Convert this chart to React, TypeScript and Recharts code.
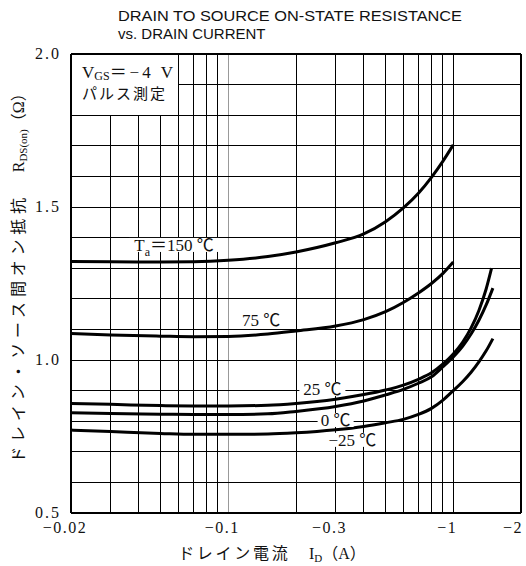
import { LineChart, Line, XAxis, YAxis, ReferenceLine, ReferenceDot } from "recharts";

// drain current (A, magnitude) and on-resistance (ohm) per ambient temperature
const I_HOT = [0.02, 0.03, 0.05, 0.07, 0.1, 0.15, 0.2, 0.3, 0.4, 0.5, 0.6, 0.7, 0.8, 0.9, 1.0];
const R_150 = [1.322, 1.321, 1.32, 1.321, 1.326, 1.338, 1.353, 1.383, 1.412, 1.452, 1.497, 1.545, 1.597, 1.65, 1.703];
const R_75 = [1.087, 1.082, 1.078, 1.076, 1.077, 1.085, 1.095, 1.111, 1.132, 1.158, 1.188, 1.219, 1.25, 1.283, 1.32];

const I_25 = [0.02, 0.03, 0.05, 0.07, 0.1, 0.15, 0.2, 0.3, 0.4, 0.5, 0.6, 0.7, 0.8, 0.9, 1.0, 1.1, 1.2, 1.3, 1.4, 1.48];
const R_25 = [0.858, 0.855, 0.851, 0.85, 0.85, 0.852, 0.858, 0.872, 0.887, 0.902, 0.918, 0.937, 0.958, 0.987, 1.02, 1.058, 1.105, 1.162, 1.232, 1.3];

const I_COLD = [0.02, 0.03, 0.05, 0.07, 0.1, 0.15, 0.2, 0.3, 0.4, 0.5, 0.6, 0.7, 0.8, 0.9, 1.0, 1.1, 1.2, 1.3, 1.4, 1.5];
const R_0 = [0.828, 0.825, 0.823, 0.822, 0.822, 0.824, 0.832, 0.848, 0.866, 0.886, 0.904, 0.924, 0.945, 0.978, 1.01, 1.045, 1.085, 1.13, 1.18, 1.235];
const R_M25 = [0.771, 0.766, 0.76, 0.757, 0.757, 0.758, 0.762, 0.772, 0.783, 0.795, 0.806, 0.822, 0.842, 0.869, 0.9, 0.929, 0.96, 0.994, 1.03, 1.07];

const X_TICKS = [0.02, 0.1, 0.3, 1, 2];
const Y_TICKS = [0.5, 1.0, 1.5, 2.0];
const X_GRID = [0.03, 0.04, 0.05, 0.06, 0.07, 0.08, 0.09, 0.1, 0.2, 0.3, 0.4, 0.5, 0.6, 0.7, 0.8, 0.9, 1];
const Y_GRID = [0.6, 0.7, 0.8, 0.9, 1.0, 1.1, 1.2, 1.3, 1.4, 1.5, 1.6, 1.7, 1.8, 1.9];

// curve labels, anchored in data units
const CURVE_LABELS = [
  { key: "150", x: 0.0574, y: 1.376, w: 90 },
  { key: "75", x: 0.14, y: 1.131, w: 44 },
  { key: "25", x: 0.262, y: 0.905, w: 46 },
  { key: "0", x: 0.3, y: 0.804, w: 36 },
  { key: "-25", x: 0.356, y: 0.739, w: 56 },
];

const SERIF = "'Liberation Serif', 'Noto Sans CJK JP', serif";
const SANS = "'Liberation Sans', Arial, sans-serif";

const toPoints = (xs: number[], ys: number[]) => xs.map((x, i) => ({ x, y: ys[i] }));

const SERIES = [
  { name: "150", data: toPoints(I_HOT, R_150) },
  { name: "75", data: toPoints(I_HOT, R_75) },
  { name: "25", data: toPoints(I_25, R_25) },
  { name: "0", data: toPoints(I_COLD, R_0) },
  { name: "-25", data: toPoints(I_COLD, R_M25) },
];

// grid cells under the V_GS note are left blank
const BOX_X = 0.06;
const BOX_Y = 1.8;

function labelText(key: string) {
  if (key === "150")
    return (
      <>
        T<tspan fontSize={12} dy={5}>a</tspan>
        <tspan dy={-5}>＝150 ℃</tspan>
      </>
    );
  if (key === "-25") return "−25 ℃";
  return `${key} ℃`;
}

function XTick({ x, y, payload }: any) {
  const v = payload.value;
  const last = v === 2;
  return (
    <text
      x={last ? x + 2 : x - 6}
      y={y + 12}
      textAnchor={last ? "end" : "middle"}
      fontFamily={SERIF}
      fontSize={16}
      letterSpacing={1.5}
      fill="#111"
    >
      {"−" + String(v)}
    </text>
  );
}

function YTick({ x, y, payload }: any) {
  return (
    <text x={x - 2} y={y + 5} textAnchor="end" fontFamily={SERIF} fontSize={16} letterSpacing={2} fill="#111">
      {payload.value.toFixed(1)}
    </text>
  );
}

export default function App() {
  return (
    <div style={{ position: "absolute", left: 0, top: 0, width: 526, height: 566, background: "#fff" }}>
      <LineChart width={526} height={566} margin={{ top: 54, right: 5, bottom: 0, left: 0 }}>
        <XAxis
          type="number"
          dataKey="x"
          scale="log"
          domain={[0.02, 2]}
          ticks={X_TICKS}
          tick={<XTick />}
          tickLine={false}
          axisLine={false}
          height={53}
          allowDataOverflow
        />
        <YAxis
          type="number"
          dataKey="y"
          domain={[0.5, 2]}
          ticks={Y_TICKS}
          tick={<YTick />}
          tickLine={false}
          axisLine={false}
          width={71}
          allowDataOverflow
        />
        {X_GRID.map((v) => (
          <ReferenceLine
            key={"vx" + v}
            segment={[
              { x: v, y: 0.5 },
              { x: v, y: v < BOX_X ? BOX_Y : 2 },
            ]}
            stroke={v === 0.1 ? "#999" : "#000"}
            strokeWidth={1}
            shapeRendering="crispEdges"
          />
        ))}
        {Y_GRID.map((v) => (
          <ReferenceLine
            key={"hy" + v}
            segment={[
              { x: v > BOX_Y ? BOX_X : 0.02, y: v },
              { x: 2, y: v },
            ]}
            stroke="#000"
            strokeWidth={1}
            shapeRendering="crispEdges"
          />
        ))}
        <ReferenceLine x={0.02} stroke="#000" strokeWidth={2} />
        <ReferenceLine x={2} stroke="#000" strokeWidth={2} />
        <ReferenceLine y={0.5} stroke="#000" strokeWidth={2} />
        <ReferenceLine y={2} stroke="#000" strokeWidth={2} />
        {SERIES.map((s) => (
          <Line
            key={s.name}
            data={s.data}
            dataKey="y"
            type="monotone"
            stroke="#000"
            strokeWidth={3}
            dot={false}
            isAnimationActive={false}
          />
        ))}
        {CURVE_LABELS.map((l) => (
          <ReferenceDot
            key={"lab" + l.key}
            x={l.x}
            y={l.y}
            r={0}
            shape={(p: any) => (
              <g>
                <rect x={p.cx - l.w / 2} y={p.cy - 7} width={l.w} height={14} fill="#fff" />
                <text x={p.cx} y={p.cy + 6} textAnchor="middle" fontFamily={SERIF} fontSize={17} fill="#111">
                  {labelText(l.key)}
                </text>
              </g>
            )}
          />
        ))}
      </LineChart>
      <svg
        width={526}
        height={566}
        style={{ position: "absolute", left: 0, top: 0, pointerEvents: "none" }}
      >
        <text x={118} y={21} fontFamily={SANS} fontSize={15} textLength={344} lengthAdjust="spacingAndGlyphs" fill="#111">
          DRAIN TO SOURCE ON-STATE RESISTANCE
        </text>
        <text x={118} y={39} fontFamily={SANS} fontSize={15} fill="#111">
          vs. DRAIN CURRENT
        </text>
        <text x={82} y={78} fontFamily={SERIF} fontSize={17} fill="#111">
          V<tspan fontSize={12} dy={2}>GS</tspan>
          <tspan dy={-2} letterSpacing={3}>＝−4 V</tspan>
        </text>
        <text x={82} y={99} fontFamily={SERIF} fontSize={15} letterSpacing={2} fill="#111">
          パルス測定
        </text>
        <text x={272} y={559} textAnchor="middle" fontFamily={SERIF} fontSize={16} fill="#111">
          <tspan letterSpacing={2.7}>ドレイン電流　</tspan>I<tspan fontSize={11} dy={3}>D</tspan>
          <tspan dy={-3}>（A）</tspan>
        </text>
        <text
          transform="translate(24,274) rotate(-90)"
          textAnchor="middle"
          fontFamily={SERIF}
          fontSize={16}
          fill="#111"
        >
          <tspan letterSpacing={4.8}>ドレイン・ソース間オン抵抗　</tspan>R<tspan fontSize={11} dy={3}>DS(on)</tspan>
          <tspan dy={-3}>（Ω）</tspan>
        </text>
      </svg>
    </div>
  );
}
